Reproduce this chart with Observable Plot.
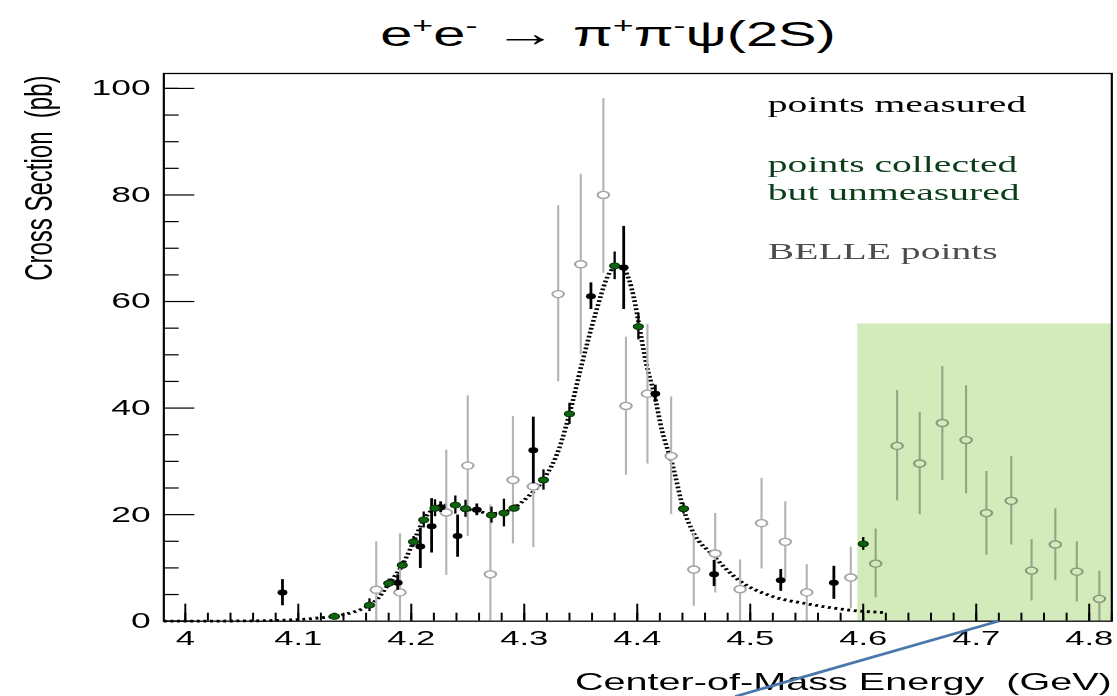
<!DOCTYPE html>
<html>
<head>
<meta charset="utf-8">
<script src="https://cdn.jsdelivr.net/npm/d3@7"></script>
<script src="https://cdn.jsdelivr.net/npm/@observablehq/plot@0.6"></script>
<style>
  html, body { margin: 0; padding: 0; background: #fff; width: 1117px; height: 696px; overflow: hidden; }
  #wrap { position: relative; width: 1117px; height: 696px; }
  #title { position: absolute; left: 608px; top: 14px; white-space: nowrap; z-index: 2;
           font-family: "Liberation Sans", Arial, sans-serif; font-size: 35px; line-height: 1; color: #000;
           transform: translateX(-50%) scaleX(1.65); transform-origin: center; }
  #title .sup { font-size: 0.62em; vertical-align: 0.62em; }
  #title .arr { font-size: 1.1em; }
  #chart { position: absolute; left: 0; top: 0; }
  svg text { white-space: pre; }
</style>
</head>
<body>
<div id="wrap">
  <div id="title">e<span class="sup">+</span>e<span class="sup">-</span> <span class="arr">&#x2192;</span> &#x3C0;<span class="sup">+</span>&#x3C0;<span class="sup">-</span>&#x3C8;(2S)</div>
  <div id="chart"></div>
</div>
<script>
// ---------- data ----------
// points measured (black)
const measuredE  = [4.086, 4.188, 4.208, 4.218, 4.226, 4.241, 4.258, 4.308, 4.359, 4.388, 4.416, 4.468, 4.527, 4.574];
const measuredXs = [5.4,   7.2,   14.0,  17.8,  21.4,  16.0,  20.9,  32.1,  61.0,  66.4,  42.7,  8.8,   7.7,   7.2];
const measuredLo = [2.9,   5.8,   9.9,   12.8,  20.4,  12.0,  19.8,  25.8,  58.5,  58.5,  41.1,  6.5,   5.6,   4.1];
const measuredHi = [7.8,   8.7,   17.4,  23.0,  22.4,  19.9,  22.0,  38.3,  63.5,  74.1,  44.3,  11.4,  9.7,   10.3];

// points collected but unmeasured (green)
const collectedE   = [4.132, 4.163, 4.180, 4.192, 4.202, 4.211, 4.221, 4.239, 4.248, 4.271, 4.282, 4.291, 4.317, 4.340, 4.380, 4.401, 4.441, 4.600];
const collectedXs  = [0.9,   3.0,   7.1,   10.5,  14.9,  19.0,  21.2,  21.8,  21.1,  19.9,  20.3,  21.2,  26.5,  38.9,  66.7,  55.3,  21.1,  14.5];
const collectedErr = [0.6,   1.2,   0.8,   0.7,   1.0,   1.5,   1.6,   1.7,   1.6,   1.5,   2.6,   0.6,   1.9,   2.0,   2.6,   2.5,   1.0,   1.2];

// BELLE points (open grey)
const belleE  = [4.169, 4.190, 4.231, 4.250, 4.270, 4.290, 4.308, 4.330, 4.350, 4.370, 4.390, 4.409, 4.430, 4.450, 4.469, 4.491, 4.510, 4.531, 4.550, 4.589, 4.611, 4.630, 4.650, 4.670, 4.691, 4.709, 4.731, 4.749, 4.770, 4.789, 4.809];
const belleXs = [5.9,   5.4,   20.4,  29.2,  8.8,   26.5,  25.3,  61.4,  67.0,  80.0,  40.4,  42.7,  31.0,  9.7,   12.7,  6.0,   18.4,  14.9,  5.4,   8.2,   10.8,  32.9,  29.6,  37.2,  34.0,  20.3,  22.6,  9.5,   14.4,  9.3,   4.2];
const belleLo = [0,     0,     8.6,   15.9,  0,     14.5,  13.8,  44.9,  50.0,  65.3,  27.4,  29.5,  20.0,  2.8,   5.3,   0,     9.8,   7.9,   0,     2.4,   4.4,   22.6,  20.0,  26.4,  23.9,  12.4,  14.3,  3.8,   7.6,   3.6,   0];
const belleHi = [14.9,  16.4,  32.1,  42.3,  21.8,  38.4,  36.7,  78.0,  83.9,  98.1,  53.3,  55.7,  42.1,  16.4,  20.2,  11.5,  26.8,  22.4,  10.6,  13.9,  17.3,  43.3,  39.2,  47.8,  44.2,  28.1,  30.9,  15.3,  21.1,  14.9,  9.4];

// fitted curve (dotted)
const curveE  = [3.981, 4.05, 4.10, 4.115, 4.132, 4.15, 4.163, 4.171, 4.18, 4.192, 4.202, 4.211, 4.221, 4.23, 4.24, 4.25, 4.26, 4.27, 4.28, 4.29, 4.304, 4.317, 4.331, 4.340, 4.351, 4.363, 4.375, 4.382, 4.389, 4.397, 4.402, 4.408, 4.415, 4.422, 4.431, 4.441, 4.45, 4.466, 4.491, 4.519, 4.552, 4.587, 4.62];
const curveXs = [0,     0.05, 0.3,  0.55,  0.9,   1.8,  3.0,   4.4,   7.0,  10.5,  14.9,  19.0,  21.2,  21.8, 21.7, 21.0, 20.6, 20.2, 20.4, 21.2, 23.5,  26.6,  32.5,  38.9,  48.3,  57.7,  65.2,  66.7,  65.8,  60.7,  55.1,  48.3,  42.7,  35.7,  29.5,  21.0,  16.5, 12.6,  7.5,   4.7,   3.2,   2.1,   1.6];

// shaded region (x from, x to, y from, y to)
const shadeE  = [4.5955, 4.82];
const shadeXs = [0, 55.8];

// stray blue line (two end points)
const blueE  = [4.487, 4.7197];
const blueXs = [-14.1, 0];

// axes
const xLabelTicks = [4, 4.1, 4.2, 4.3, 4.4, 4.5, 4.6, 4.7, 4.8];
const xMinorTicks = d3.ticks(4.0, 4.82, 41).filter(v => v <= 4.82);
const yLabelTicks = [0, 20, 40, 60, 80, 100];
const yMinorTicks = [5, 10, 15, 25, 30, 35, 45, 50, 55, 65, 70, 75, 85, 90, 95, 100];
const xTitle = "Center-of-Mass Energy  (GeV)";
const yTitle = "Cross Section  (pb)";
const legendLines = ["points measured", "points collected\nbut unmeasured", "BELLE points"];

// ---------- build tables ----------
const measured  = measuredE.map((e, i) => ({e, v: measuredXs[i], lo: measuredLo[i], hi: measuredHi[i]}));
const collected = collectedE.map((e, i) => ({e, v: collectedXs[i], lo: collectedXs[i] - collectedErr[i], hi: collectedXs[i] + collectedErr[i]}));
const belle     = belleE.map((e, i) => ({e, v: belleXs[i], lo: belleLo[i], hi: belleHi[i]}));
const curve     = curveE.map((e, i) => ({e, v: curveXs[i]}));
const shade     = [{x1: shadeE[0], x2: shadeE[1], y1: shadeXs[0], y2: shadeXs[1]}];
const blue      = [{x1: blueE[0], x2: blueE[1], y1: blueXs[0], y2: blueXs[1]}];

// the reference image is stretched horizontally; draw narrow and stretch
const SX = 1.65;
const W = 1117 / SX;
const frameL = 163, frameR = 1111, frameT = 73, frameB = 620.7;
const serif = "'Liberation Serif', 'Times New Roman', serif";

const chart = Plot.plot({
  width: W,
  height: 696,
  marginLeft: frameL / SX,
  marginRight: (1117 - frameR) / SX,
  marginTop: frameT,
  marginBottom: 696 - frameB,
  x: {domain: [3.981, 4.82], axis: null},
  y: {domain: [0, 102.8], axis: null},
  style: {fontFamily: "'Liberation Sans', Arial, sans-serif", fontSize: "21px", background: "white", color: "black", overflow: "visible"},
  marks: [
    // fit curve
    Plot.line(curve, {x: "e", y: "v", curve: "monotone-x", stroke: "black", strokeWidth: 2.8, strokeLinecap: "butt", strokeLinejoin: "miter", strokeDasharray: "1.8,2.2"}),
    // BELLE
    Plot.ruleX(belle, {x: "e", y1: "lo", y2: "hi", stroke: "#b4b4b4", strokeWidth: 1.3}),
    Plot.dot(belle, {x: "e", y: "v", r: 3.5, fill: "white", stroke: "#a6a6a6", strokeWidth: 1.3}),
    // measured
    Plot.ruleX(measured, {x: "e", y1: "lo", y2: "hi", stroke: "black", strokeWidth: 1.7}),
    Plot.dot(measured, {x: "e", y: "v", r: 3, fill: "black"}),
    // collected
    Plot.ruleX(collected, {x: "e", y1: "lo", y2: "hi", stroke: "black", strokeWidth: 1.4}),
    Plot.dot(collected, {x: "e", y: "v", r: 3, fill: "#0f650f", stroke: "#082f08", strokeWidth: 0.8}),
    // shaded region
    Plot.rect(shade, {x1: "x1", x2: "x2", y1: "y1", y2: "y2", fill: "#d3eabb", mixBlendMode: "multiply"}),
    // ticks (inward)
    Plot.axisY({ticks: yMinorTicks, tickSize: -9.5, fill: null, label: null, stroke: "black", strokeWidth: 1.2}),
    Plot.axisY({ticks: yLabelTicks, tickSize: -19, fill: null, label: null, stroke: "black", strokeWidth: 1.2}),
    Plot.axisX({ticks: xMinorTicks, tickSize: -8, fill: null, label: null, stroke: "black", strokeWidth: 1.2}),
    Plot.axisX({ticks: xLabelTicks, tickSize: -17, fill: null, label: null, stroke: "black", strokeWidth: 1.2}),
    // tick labels
    Plot.axisY({ticks: yLabelTicks, tickSize: 0, tickPadding: 8, fontSize: 21.5, label: null, tickFormat: d => String(d)}),
    Plot.axisX({ticks: xLabelTicks, tickSize: 0, tickPadding: 9, fontSize: 21, label: null, tickFormat: d => String(d)}),
    Plot.frame({stroke: "black", strokeWidth: 1.3}),
    // axis titles
    Plot.text([xTitle], {frameAnchor: "bottom-right", textAnchor: "end", lineAnchor: "middle", dy: 61, dx: 0, fontSize: 24, fill: "black"}),
    Plot.text([yTitle], {frameAnchor: "top-left", rotate: -90, textAnchor: "end", lineAnchor: "middle", dx: (38 - frameL) / SX, dy: 2, fontSize: 24, fill: "black"}),
    // legend text
    Plot.text([legendLines[0]], {frameAnchor: "top-left", textAnchor: "start", lineAnchor: "bottom", dx: (767 - frameL) / SX, dy: 112 - frameT, fontFamily: serif, fontSize: 24, fill: "black"}),
    Plot.text([legendLines[1]], {frameAnchor: "top-left", textAnchor: "start", lineAnchor: "bottom", dx: (767 - frameL) / SX, dy: 200 - frameT, lineHeight: 1.2, fontFamily: serif, fontSize: 24, fill: "#0b3d1a"}),
    Plot.text([legendLines[2]], {frameAnchor: "top-left", textAnchor: "start", lineAnchor: "bottom", dx: (767 - frameL) / SX, dy: 259 - frameT, fontFamily: serif, fontSize: 24, fill: "#4d4d4d"}),
    // stray blue line
    Plot.link(blue, {x1: "x1", y1: "y1", x2: "x2", y2: "y2", stroke: "#4a78ab", strokeWidth: 2.6})
  ]
});
chart.style.transform = `scaleX(${SX})`;
chart.style.transformOrigin = "0 0";
chart.style.maxWidth = "none";
document.getElementById("chart").appendChild(chart);
</script>
</body>
</html>
